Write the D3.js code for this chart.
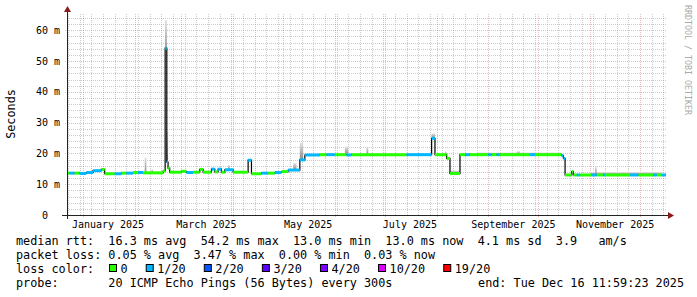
<!DOCTYPE html>
<meta charset="utf-8">
<script src="https://d3js.org/d3.v7.min.js"></script>
<style>
  body { margin: 0; background: #fff; }
  text { font-family: "DejaVu Sans Mono", monospace; white-space: pre; }
</style>
<body>
<svg width="697" height="297"></svg>
<script>
// median rtt, one run per row: the value holds from its date to the next date
var runDates = ["2024-12-22T10:00","2024-12-24","2024-12-27","2024-12-30","2025-01-03","2025-01-07",
  "2025-01-12","2025-01-14","2025-01-20","2025-01-24","2025-01-27","2025-01-31","2025-02-03",
  "2025-02-06","2025-02-18","2025-02-19T06:00","2025-02-20T06:00","2025-02-21","2025-02-22",
  "2025-03-01","2025-03-04","2025-03-08","2025-03-12","2025-03-14","2025-03-19","2025-03-21",
  "2025-03-23","2025-03-25","2025-03-27","2025-04-01","2025-04-10","2025-04-12","2025-04-18",
  "2025-04-22","2025-04-26","2025-04-30","2025-05-04","2025-05-11","2025-05-14","2025-05-23",
  "2025-05-27","2025-06-01","2025-06-08","2025-06-11","2025-07-14","2025-07-29","2025-07-31",
  "2025-08-07","2025-08-09","2025-08-15","2025-08-18","2025-08-21","2025-09-01","2025-09-03",
  "2025-09-06","2025-09-08","2025-09-26","2025-09-29","2025-10-15","2025-10-16","2025-10-17",
  "2025-10-21","2025-10-22","2025-10-24","2025-10-26","2025-11-02","2025-11-05","2025-11-09",
  "2025-11-10","2025-11-25","2025-11-30","2025-12-09","2025-12-11","2025-12-14"];
var runMedian = [13.6,13.6,13.6,13.5,13.8,14.4,
  14.8,13.4,13.4,13.6,13.6,13.8,13.8,
  13.7,14.3,54.2,17.2,15.2,13.9,
  14.2,13.8,13.9,14.8,13.9,14.9,14.0,
  14.9,13.9,14.7,13.9,17.8,13.4,13.6,
  13.6,13.8,14.1,14.6,17.9,19.5,19.6,
  19.6,19.6,19.5,19.6,19.6,24.9,19.6,
  18.4,13.5,19.6,19.6,19.6,19.6,19.6,
  19.6,19.6,19.6,19.6,19.3,18.4,13.0,
  14.1,13.0,13.0,13.0,13.0,13.0,13.0,
  13.0,13.0,13.0,13.0,13.0,13.0];
// loss level of each run, index into lossLabels
var runLoss = [0,1,0,1,1,1,
  0,0,1,0,1,0,1,
  0,0,1,1,0,0,
  0,1,0,0,0,1,0,
  1,0,1,0,1,0,1,
  0,1,0,1,1,1,0,
  1,0,1,0,1,1,0,
  0,0,0,1,0,1,0,
  1,0,1,0,1,1,0,
  0,0,1,0,1,0,1,
  0,1,0,1,0,1];
var endDate = "2025-12-16T11:59:23";

// smoke (spread of the 20 pings)
var smokeFrom = ["2025-02-07","2025-02-11","2025-02-19T06:00","2025-02-20T06:00","2025-03-29",
  "2025-05-07","2025-05-11","2025-06-07","2025-06-20","2025-07-29","2025-08-06","2025-08-09",
  "2025-08-25","2025-09-18","2025-10-21","2025-11-01","2025-11-04"];
var smokeTo = ["2025-02-08","2025-02-12","2025-02-20T06:00","2025-02-21","2025-03-30",
  "2025-05-09","2025-05-13","2025-06-09","2025-06-21","2025-07-31","2025-08-07","2025-08-15",
  "2025-10-15","2025-09-20","2025-10-22","2025-12-14","2025-11-05"];
var smokeLow = [13.7,13.8,54.2,17.2,14.7,14.6,17.9,19.6,19.6,24.9,19.6,13.5,19.6,19.6,14.1,13.0,13.0];
var smokeHigh = [18.6,14.8,63.3,27.0,16.2,16.8,23.4,22.2,22.2,26.5,20.6,14.4,20.3,20.7,14.6,13.9,15.7];

var yTicks = [0, 10, 20, 30, 40, 50, 60];
var yTickLabels = ["0  ", "10 m", "20 m", "30 m", "40 m", "50 m", "60 m"];

var lossLabels = ["0", "1/20", "2/20", "3/20", "4/20", "10/20", "19/20"];
var lossColors = ["#26ff00", "#00b8ff", "#0059ff", "#5e00ff", "#7e00ff", "#dd00ff", "#ff0000"];

var legendLines = [
  "median rtt:  16.3 ms avg  54.2 ms max  13.0 ms min  13.0 ms now  4.1 ms sd  3.9   am/s",
  "packet loss: 0.05 % avg  3.47 % max  0.00 % min  0.03 % now"
];
var probeText = "probe:       20 ICMP Echo Pings (56 Bytes) every 300s";
var endText = "end: Tue Dec 16 11:59:23 2025";

var x0 = 67, x1 = 666, yTop = 14, yBase = 215;
var svg = d3.select("svg");
var parse = d3.utcParse("%Y-%m-%dT%H:%M:%S");
function pd(s) {
  if (s.length == 10) s += "T00:00:00";
  else if (s.length == 16) s += ":00";
  return parse(s);
}
var t0 = pd(runDates[0]), t1 = pd(endDate);

var x = d3.scaleUtc().domain([t0, t1]).range([x0, x1]);
var y = d3.scaleLinear().domain([0, 65.3]).range([yBase, yTop]);

// grid
var minorCol = "rgba(140,140,140,0.45)", majorCol = "rgba(190,80,80,0.38)";
var grid = svg.append("g");
var minorY = d3.range(0, 66, 2).filter(function(v) { return v % 10 != 0; });
grid.selectAll(".my").data(minorY).enter().append("line")
  .attr("x1", x0).attr("x2", x1)
  .attr("y1", function(d) { return Math.round(y(d)) + 0.5; })
  .attr("y2", function(d) { return Math.round(y(d)) + 0.5; })
  .attr("stroke", minorCol).attr("stroke-dasharray", "1,1");
var weeks = d3.utcMonday.range(t0, t1).filter(function(d) { return d.getUTCDate() != 1; });
grid.selectAll(".mx").data(weeks).enter().append("line")
  .attr("y1", yTop).attr("y2", yBase)
  .attr("x1", function(d) { return Math.round(x(d)) + 0.5; })
  .attr("x2", function(d) { return Math.round(x(d)) + 0.5; })
  .attr("stroke", minorCol).attr("stroke-dasharray", "1,1");
grid.selectAll(".My").data(yTicks.slice(1)).enter().append("line")
  .attr("x1", x0 - 2).attr("x2", x1)
  .attr("y1", function(d) { return Math.round(y(d)) + 0.5; })
  .attr("y2", function(d) { return Math.round(y(d)) + 0.5; })
  .attr("stroke", majorCol).attr("stroke-dasharray", "1,1");
var months = d3.utcMonth.range(t0, t1);
grid.selectAll(".Mx").data(months).enter().append("line")
  .attr("y1", yTop).attr("y2", yBase + 2)
  .attr("x1", function(d) { return Math.round(x(d)) + 0.5; })
  .attr("x2", function(d) { return Math.round(x(d)) + 0.5; })
  .attr("stroke", majorCol).attr("stroke-dasharray", "1,1");

// smoke
var grad = svg.append("defs").append("linearGradient").attr("id", "smoke")
  .attr("x1", 0).attr("y1", 1).attr("x2", 0).attr("y2", 0);
grad.append("stop").attr("offset", 0).attr("stop-color", "#8a8a8a");
grad.append("stop").attr("offset", 1).attr("stop-color", "#e0e0e0");
svg.append("g").selectAll("rect").data(d3.range(smokeFrom.length)).enter().append("rect")
  .attr("x", function(i) { return x(pd(smokeFrom[i])); })
  .attr("width", function(i) { return Math.max(1, x(pd(smokeTo[i])) - x(pd(smokeFrom[i]))); })
  .attr("y", function(i) { return y(smokeHigh[i]); })
  .attr("height", function(i) { return y(smokeLow[i]) - y(smokeHigh[i]); })
  .attr("fill", "url(#smoke)");

// median as a thin step line
var pts = runDates.map(function(d, i) { return [pd(d), runMedian[i]]; });
pts.push([t1, runMedian[runMedian.length - 1]]);
var stepLine = d3.line().x(function(d) { return x(d[0]); }).y(function(d) { return y(d[1]); })
  .curve(d3.curveStepAfter);
svg.append("path").attr("d", stepLine(pts)).attr("fill", "none")
  .attr("stroke", "#000").attr("stroke-width", 1.2);

// median coloured by loss
svg.append("g").selectAll("line").data(d3.range(runDates.length)).enter().append("line")
  .attr("x1", function(i) { return x(pts[i][0]); })
  .attr("x2", function(i) { return x(pts[i + 1][0]); })
  .attr("y1", function(i) { return y(runMedian[i]); })
  .attr("y2", function(i) { return y(runMedian[i]); })
  .attr("stroke", function(i) { return lossColors[runLoss[i]]; })
  .attr("stroke-width", 3);

// axes
var ax = svg.append("g");
ax.append("line").attr("x1", 62).attr("x2", 669).attr("y1", yBase + 0.5).attr("y2", yBase + 0.5)
  .attr("stroke", "#222");
ax.append("line").attr("x1", x0 + 0.5).attr("x2", x0 + 0.5).attr("y1", 219).attr("y2", 11)
  .attr("stroke", "#222");
ax.append("path").attr("d", "M668,212L674,215.5L668,219Z").attr("fill", "#8b1a1a");
ax.append("path").attr("d", "M64,12L67.5,6L71,12Z").attr("fill", "#8b1a1a");

svg.append("g").selectAll("text").data(yTicks).enter().append("text")
  .attr("x", 60).attr("y", function(d) { return y(d) + 3.5; })
  .attr("text-anchor", "end").attr("font-size", "10px").attr("fill", "#000")
  .text(function(d, i) { return yTickLabels[i]; });

var labelMonths = d3.utcMonth.every(2).range(t0, t1);
svg.append("g").selectAll("text").data(labelMonths).enter().append("text")
  .attr("x", function(d) { return x(d3.utcDay.offset(d, 15)); })
  .attr("y", 228).attr("text-anchor", "middle").attr("font-size", "10px")
  .text(d3.utcFormat("%B %Y"));

svg.append("text").attr("transform", "translate(15,114) rotate(-90)")
  .attr("text-anchor", "middle").attr("font-size", "11.8px").text("Seconds");
svg.append("text").attr("transform", "translate(685,5) rotate(90)")
  .attr("font-size", "8.3px").attr("fill", "#aaa").text("RRDTOOL / TOBI OETIKER");

// legend
var lg = svg.append("g").attr("font-size", "11.8px");
lg.append("text").attr("x", 16).attr("y", 245).text(legendLines[0]);
lg.append("text").attr("x", 16).attr("y", 259).text(legendLines[1]);
lg.append("text").attr("x", 16).attr("y", 273).text("loss color:");
var bx = 109;
lossLabels.forEach(function(l, i) {
  lg.append("rect").attr("x", bx + 0.5).attr("y", 264.5).attr("width", 7).attr("height", 7)
    .attr("fill", lossColors[i]).attr("stroke", "#000");
  lg.append("text").attr("x", bx + 11.5).attr("y", 273).text(l);
  bx += 7.12 * l.length + 29.6;
});
lg.append("text").attr("x", 16).attr("y", 287).text(probeText);
lg.append("text").attr("x", 684).attr("y", 287).attr("text-anchor", "end").text(endText);
</script>
</body>
